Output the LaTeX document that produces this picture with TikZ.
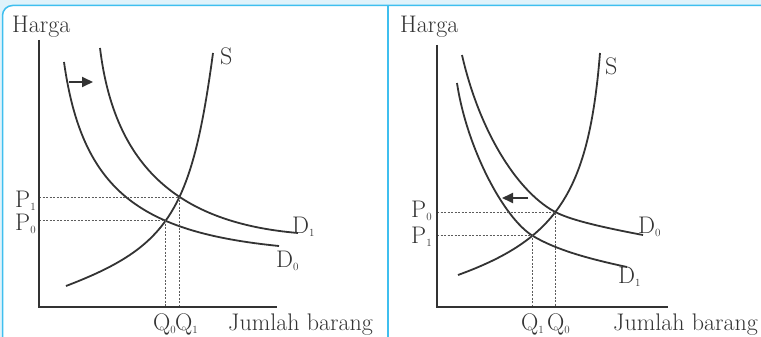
\documentclass[tikz,border=0pt]{standalone}
\usepackage{tikz}
\usetikzlibrary{arrows.meta, intersections}
\definecolor{frameblue}{HTML}{3FBFEF}
\definecolor{paleblue}{HTML}{E0F3FB}
\definecolor{ink}{HTML}{333333}
\newcommand{\idx}[1]{\raisebox{-3pt}{\fontsize{11}{11}\selectfont #1}}

\begin{document}
\begin{tikzpicture}[x=1pt, y=-1pt,
	axis/.style={draw=ink, line width=1.8pt},
	curve/.style={draw=ink, line width=1.8pt},
	guide/.style={draw=ink!80, line width=0.7pt, dash pattern=on 2pt off 1.5pt},
	shiftarrow/.style={draw=ink, line width=1.8pt, -{Triangle[length=11pt, width=10pt]}},
	lbl/.style={anchor=base west, inner sep=0pt, text=ink, font=\fontsize{24}{28}\selectfont}]
						\useasboundingbox (0,0) rectangle (761,337);
						\fill[paleblue] (0,0) rectangle (761,337);
						\fill[white] (2.5,340) [rounded corners=10pt] -- (2.5,5.5) -- (770,5.5) [sharp corners] -- (770,340) -- cycle;
						\draw[frameblue, line width=1.5pt] (2.5,340) [rounded corners=10pt] -- (2.5,5.5) -- (770,5.5);
						\draw[frameblue, line width=1.5pt] (388,5.5) -- (388,340);
						% kiri: permintaan naik
						\coordinate (topL) at (39,40);
						\coordinate (O1) at (39,307);
						\coordinate (endL) at (277,307);
						\draw[curve, name path=D0L] (64,62) .. controls (82,191) and (140,232) .. (279,246);
						\draw[curve, name path=D1L] (100,48) .. controls (114.4,167) and (178.5,222.8) .. (298,233);
						\draw[curve, name path=SL] (66,286) .. controls (168.7,246.7) and (191.6,211.6) .. (213,53);
						\path[name intersections={of=SL and D0L, by=E0}];
						\path[name intersections={of=SL and D1L, by=E1}];
						\draw[guide] (O1 |- E1) -- (E1) -- (E1 |- O1);
						\draw[guide] (O1 |- E0) -- (E0) -- (E0 |- O1);
						\draw[axis] (topL) -- (O1) -- (endL);
						\coordinate (shiftA) at (69,82);
						\coordinate (shiftB) at (93,82);
						\draw[shiftarrow] (shiftA) -- (shiftB);
						\node[lbl] (hargaL) at (12,33) {Harga};
						\node[lbl] (jumlahL) at (228,330) {Jumlah barang};
						\node[lbl] (sL) at (220,65) {S};
						\node[lbl] (d1L) at (292,233) {D\idx{1}};
						\node[lbl] (d0L) at (276,267) {D\idx{0}};
						\node[lbl] (p1L) at (15,207) {P\idx{1}};
						\node[lbl] (p0L) at (15,230) {P\idx{0}};
						\node[lbl] (q0L) at (153,330) {Q\idx{0}};
						\node[lbl] (q1L) at (175,330) {Q\idx{1}};
						% kanan: permintaan turun
						\coordinate (topR) at (437,45);
						\coordinate (O2) at (437,307);
						\coordinate (endR) at (668,307);
						\draw[curve, name path=D0R] (462,55) .. controls (480.5,135.8) and (520.2,194.5) .. (556.7,212.7)
							.. controls (572.2,220.4) and (602.8,227.4) .. (643,235);
						\draw[curve, name path=D1R] (457,83) .. controls (466.7,147.8) and (503.8,218.5) .. (533,236)
							.. controls (555.7,249.6) and (587.6,258.6) .. (627,267);
						\draw[curve, name path=SR] (458,275) .. controls (556.7,239.1) and (588.8,192.6) .. (600,53);
						\path[name intersections={of=SR and D0R, by=F0}];
						\path[name intersections={of=SR and D1R, by=F1}];
						\draw[guide] (O2 |- F0) -- (F0) -- (F0 |- O2);
						\draw[guide] (O2 |- F1) -- (F1) -- (F1 |- O2);
						\draw[axis] (topR) -- (O2) -- (endR);
						\coordinate (shiftC) at (528,198);
						\coordinate (shiftD) at (502,198);
						\draw[shiftarrow] (shiftC) -- (shiftD);
						\node[lbl] (hargaR) at (400,33) {Harga};
						\node[lbl] (jumlahR) at (613,330) {Jumlah barang};
						\node[lbl] (sR) at (605,75) {S};
						\node[lbl] (d0R) at (638,233) {D\idx{0}};
						\node[lbl] (d1R) at (618,283) {D\idx{1}};
						\node[lbl] (p0R) at (411,217) {P\idx{0}};
						\node[lbl] (p1R) at (411,243) {P\idx{1}};
						\node[lbl] (q1R) at (521,330) {Q\idx{1}};
						\node[lbl] (q0R) at (547,330) {Q\idx{0}};
					\end{tikzpicture}
\end{document}
